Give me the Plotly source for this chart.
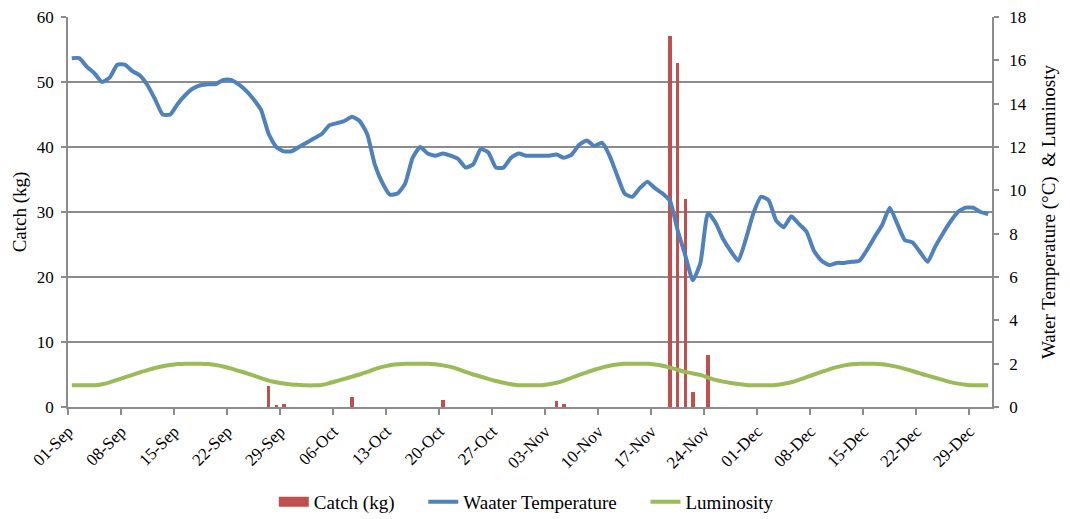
import pandas as pd
import plotly.graph_objects as go

# daily series, 01-Sep .. 31-Dec
days = pd.date_range("2015-09-01 12:00", periods=122, freq="D")

water_temp = [
    16.1, 16.1, 15.7, 15.4, 15.0, 15.2, 15.8, 15.8, 15.5, 15.3,
    14.85, 14.2, 13.5, 13.5, 14.0, 14.4, 14.7, 14.85, 14.9, 14.9,
    15.1, 15.1, 14.9, 14.6, 14.2, 13.7, 12.6, 12.0, 11.8, 11.8,
    12.0, 12.2, 12.4, 12.6, 13.0, 13.1, 13.2, 13.4, 13.2, 12.6,
    11.2, 10.35, 9.8, 9.85, 10.3, 11.5, 12.0, 11.7, 11.6, 11.7,
    11.6, 11.45, 11.05, 11.2, 11.9, 11.75, 11.05, 11.05, 11.5, 11.7,
    11.6, 11.6, 11.6, 11.6, 11.65, 11.5, 11.65, 12.1, 12.3, 12.05,
    12.2, 11.6, 10.7, 9.85, 9.7, 10.1, 10.4, 10.1, 9.85, 9.5,
    8.15, 7.0, 5.85, 6.65, 8.95, 8.5, 7.75, 7.2, 6.75, 7.75,
    8.95, 9.7, 9.55, 8.6, 8.3, 8.8, 8.45, 8.1, 7.2, 6.75,
    6.55, 6.65, 6.65, 6.7, 6.75, 7.25, 7.85, 8.4, 9.2, 8.45,
    7.7, 7.6, 7.15, 6.7, 7.4, 8.0, 8.55, 9.0, 9.2, 9.2,
    9.0, 8.9,
]

luminosity = [
    1.0, 1.0, 1.0, 1.0, 1.05, 1.14, 1.25, 1.37, 1.48, 1.6,
    1.7, 1.8, 1.88, 1.94, 1.98, 2.0, 2.0, 2.0, 1.98, 1.94,
    1.87, 1.78, 1.67, 1.57, 1.45, 1.33, 1.22, 1.14, 1.08, 1.04,
    1.02, 1.0, 1.0, 1.02, 1.1, 1.2, 1.3, 1.4, 1.5, 1.62,
    1.75, 1.85, 1.93, 1.97, 2.0, 2.0, 2.0, 2.0, 1.97, 1.92,
    1.85, 1.75, 1.62, 1.5, 1.4, 1.3, 1.2, 1.12, 1.05, 1.0,
    1.0, 1.0, 1.0, 1.05, 1.12, 1.22, 1.35, 1.48, 1.6, 1.72,
    1.82, 1.9, 1.96, 2.0, 2.0, 2.0, 2.0, 1.96, 1.9, 1.82,
    1.72, 1.62, 1.55, 1.48, 1.36, 1.25, 1.17, 1.11, 1.06, 1.02,
    1.0, 1.0, 1.0, 1.02, 1.07, 1.14, 1.25, 1.38, 1.5, 1.62,
    1.74, 1.84, 1.92, 1.97, 2.0, 2.0, 2.0, 1.97, 1.92, 1.85,
    1.76, 1.66, 1.55, 1.45, 1.35, 1.25, 1.15, 1.08, 1.03, 1.0,
    1.0, 1.0,
]

# catch only on a few days (index into days)
catch_idx = [26, 27, 28, 37, 49, 64, 65, 79, 80, 81, 82, 84]
catch_kg = [3.3, 0.2, 0.5, 1.5, 1.1, 1.0, 0.5, 57.1, 53.0, 32.0, 2.25, 8.0]
catch_dates = [days[i] for i in catch_idx]

tick_dates = pd.date_range("2015-09-01", "2015-12-29", freq="7D")

RED = "#C0504D"
BLUE = "#4F81BD"
GREEN = "#9BBB59"
GRID = "#8c8c8c"
FONT = "Liberation Serif, DejaVu Serif, serif"
TICK = dict(family=FONT, size=17)
LABEL = dict(family=FONT, size=19)
PAD = "\u00a0" * 5  # extra room between legend entries

fig = go.Figure()
fig.add_trace(go.Bar(x=catch_dates, y=catch_kg, name="Catch (kg)",
                     marker=dict(color=RED, line=dict(width=0)),
                     width=0.45 * 86400000, yaxis="y", showlegend=False,
                     legendgroup="catch"))
# legend entry for the bars (wide red block like the original)
fig.add_trace(go.Scatter(x=[None], y=[None], name="Catch (kg)" + PAD, mode="lines",
                         line=dict(color=RED, width=10), legendgroup="catch"))
fig.add_trace(go.Scatter(x=days, y=water_temp, name="Waater Temperature" + PAD,
                         mode="lines", line=dict(color=BLUE, width=4, shape="spline", smoothing=0.5),
                         yaxis="y2"))
fig.add_trace(go.Scatter(x=days, y=luminosity, name="Luminosity",
                         mode="lines", line=dict(color=GREEN, width=4, shape="spline", smoothing=0.5),
                         yaxis="y2"))

fig.update_layout(
    width=1070, height=519,
    margin=dict(l=68, r=78, t=17, b=112),
    plot_bgcolor="white", paper_bgcolor="white",
    font=dict(family=FONT, size=17, color="black"),
    showlegend=True,
    legend=dict(orientation="h", x=0.496, xanchor="center",
                yref="container", y=0.033, yanchor="middle",
                font=LABEL, traceorder="normal"),
    xaxis=dict(type="date", range=["2015-09-01", "2016-01-01"], automargin=False,
               tickvals=list(tick_dates), tickformat="%d-%b", tickangle=-45,
               showgrid=False, showline=True, linecolor=GRID, linewidth=1.5,
               ticks="outside", ticklen=6, tickcolor=GRID, tickwidth=1.5,
               tickfont=TICK, zeroline=False),
    yaxis=dict(range=[0, 60], dtick=10, showgrid=True, gridcolor=GRID, gridwidth=1.5,
               showline=True, linecolor=GRID, linewidth=1.5, automargin=False,
               ticks="outside", ticklen=5, tickcolor=GRID, tickwidth=1.5,
               ticklabelstandoff=4,
               title=dict(text="Catch (kg)", font=LABEL, standoff=5),
               tickfont=TICK, zeroline=False),
    yaxis2=dict(range=[0, 18], dtick=2, overlaying="y", side="right", showgrid=False,
                showline=True, linecolor=GRID, linewidth=1.5, automargin=False,
                ticks="outside", ticklen=5, tickcolor=GRID, tickwidth=1.5,
                ticklabelstandoff=7,
                title=dict(text="Water Temperature (°C)  & Luminosty",
                           font=LABEL, standoff=16),
                tickfont=TICK, zeroline=False),
    bargap=0,
)

# the page body has a default 8px margin; remove it so the figure sits at 0,0
fig.write_html("out.html", config={"displayModeBar": False},
               post_script="document.body.style.margin='0';")
